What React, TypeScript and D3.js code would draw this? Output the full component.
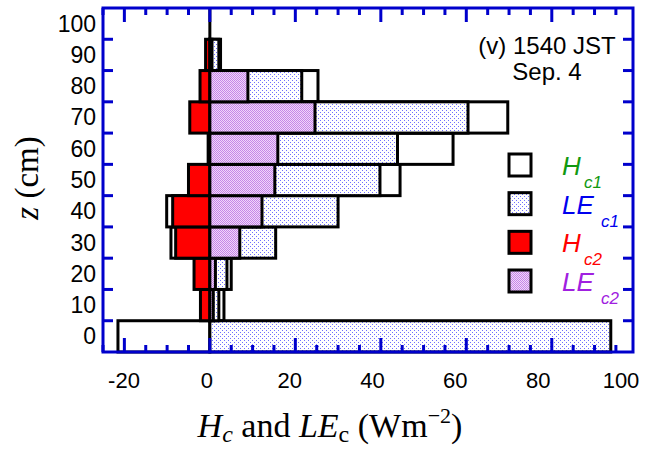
import * as d3 from "d3";

const levels = [0, 10, 20, 30, 40, 50, 60, 70, 80, 90];
const hc1 = [-21.5, 3.3, 5.0, -9.1, -10.1, 44.5, 56.9, 69.7, 25.3, 2.5];
const lec1 = [93.8, 2.1, 4.0, 15.4, 30.0, 39.8, 43.9, 60.4, 21.5, 2.1];
const hc2 = [0, -2.2, -3.7, -8.0, -8.7, -5.0, -0.4, -4.7, -2.3, -1.0];
const lec2 = [0, 0.8, 1.3, 7.0, 12.2, 15.2, 15.9, 24.6, 8.9, 0.5];

const xTickLabels = [-20, 0, 20, 40, 60, 80, 100];
const yTickLabels = [0, 10, 20, 30, 40, 50, 60, 70, 80, 90, 100];
const yTicks = [5, 15, 25, 35, 45, 55, 65, 75, 85, 95];

const W = 661;
const H = 450;
const margin = { left: 103, right: 28, top: 8, bottom: 98 };

const x = d3.scaleLinear().domain([-25, 99]).range([margin.left, W - margin.right]);
const y = d3.scaleLinear().domain([-5, 105]).range([H - margin.bottom, margin.top]);
// tick labels in the original sit on a slightly narrower spacing than the ticks
const xLabel = d3.scaleLinear().domain([-20, 100]).range([124, 621]);

const blue = "#0000cc";
const sans = "'Liberation Sans', Arial, sans-serif";
const serif = "'Liberation Serif', 'Times New Roman', serif";

const series = [
  { key: "hc1", values: hc1, fill: "#ffffff" },
  { key: "lec1", values: lec1, fill: "url(#dots)" },
  { key: "hc2", values: hc2, fill: "#ff0000" },
  { key: "lec2", values: lec2, fill: "url(#purp)" },
];

const legend = [
  { name: "H", sub: "c1", fill: "#ffffff", color: "#119911" },
  { name: "LE", sub: "c1", fill: "url(#dots)", color: "#0000ee" },
  { name: "H", sub: "c2", fill: "#ff0000", color: "#ff0000" },
  { name: "LE", sub: "c2", fill: "url(#purp)", color: "#a020e0" },
];

export default function App() {
  const minorX = d3.range(-25, 100, 5);
  const legendY = d3.scaleLinear().domain([0, 3]).range([165, 281]);

  return (
    <svg
      width={W}
      height={H}
      style={{ position: "absolute", left: 0, top: 0, background: "#fff" }}
    >
      <defs>
        <pattern id="dots" width="4" height="4" patternUnits="userSpaceOnUse">
          <rect width="4" height="4" fill="#ffffff" />
          <rect x="0" y="0" width="1" height="1" fill="#6f6fff" />
          <rect x="2" y="2" width="1" height="1" fill="#6f6fff" />
        </pattern>
        <pattern id="purp" width="2" height="2" patternUnits="userSpaceOnUse">
          <rect width="2" height="2" fill="#f1d6fa" />
          <rect x="0" y="0" width="1" height="1" fill="#c587e8" />
          <rect x="1" y="1" width="1" height="1" fill="#c587e8" />
        </pattern>
      </defs>

      {/* zero line */}
      <line x1={x(0)} x2={x(0)} y1={y(105)} y2={y(-5)} stroke="#000" strokeWidth={3} />

      {/* bars */}
      {series.map((s) => (
        <g key={s.key}>
          {levels.map((lv, i) => {
            const v = s.values[i];
            if (v === 0) return null;
            const x0 = x(Math.min(0, v));
            const x1 = x(Math.max(0, v));
            return (
              <rect
                key={lv}
                x={x0}
                y={y(lv + 5)}
                width={x1 - x0}
                height={y(lv - 5) - y(lv + 5)}
                fill={s.fill}
                stroke="#000"
                strokeWidth={3}
              />
            );
          })}
        </g>
      ))}

      {/* frame */}
      <rect
        x={margin.left}
        y={margin.top}
        width={W - margin.left - margin.right}
        height={H - margin.top - margin.bottom}
        fill="none"
        stroke={blue}
        strokeWidth={3}
      />

      {/* x ticks */}
      {minorX.map((t) => {
        const major = t % 20 === 0;
        const len = major ? 14 : 7;
        return (
          <g key={t}>
            <line x1={x(t)} x2={x(t)} y1={y(-5)} y2={y(-5) - len} stroke={blue} strokeWidth={3} />
            <line x1={x(t)} x2={x(t)} y1={y(105)} y2={y(105) + len} stroke={blue} strokeWidth={3} />
          </g>
        );
      })}

      {/* y ticks */}
      {yTicks.map((t) => (
        <g key={t}>
          <line x1={margin.left} x2={margin.left + 10} y1={y(t)} y2={y(t)} stroke={blue} strokeWidth={3} />
          <line x1={W - margin.right} x2={W - margin.right - 10} y1={y(t)} y2={y(t)} stroke={blue} strokeWidth={3} />
        </g>
      ))}

      {/* tick labels */}
      {xTickLabels.map((t) => (
        <text key={t} x={xLabel(t)} y={388} textAnchor="middle" fontFamily={sans} fontSize={22}>
          {t}
        </text>
      ))}
      {yTickLabels.map((t) => (
        <text key={t} x={96} y={y(t) + 8} textAnchor="end" fontFamily={sans} fontSize={23}>
          {t}
        </text>
      ))}

      {/* annotation */}
      <text x={547} y={54} textAnchor="middle" fontFamily={sans} fontSize={24}>(v) 1540 JST</text>
      <text x={547} y={80} textAnchor="middle" fontFamily={sans} fontSize={24}>Sep. 4</text>

      {/* legend */}
      {legend.map((d, i) => {
        const cy = legendY(i);
        return (
          <g key={i}>
            <rect x={509} y={cy - 11} width={22} height={22} fill={d.fill} stroke="#000" strokeWidth={3} />
            <text x={562} y={cy + 10} fontFamily={sans} fontStyle="italic" fontSize={26} fill={d.color}>
              {d.name}
            </text>
            <text
              x={d.name === "H" ? 584 : 601}
              y={cy + 23}
              fontFamily={sans}
              fontStyle="italic"
              fontSize={17}
              fill={d.color}
            >
              {d.sub}
            </text>
          </g>
        );
      })}

      {/* axis titles */}
      <text
        transform={`translate(38,${178}) rotate(-90)`}
        textAnchor="middle"
        fontFamily={serif}
        fontSize={33}
      >
        <tspan fontStyle="italic">z</tspan> (cm)
      </text>
      <text x={330} y={437} textAnchor="middle" fontFamily={serif} fontSize={34}>
        <tspan fontStyle="italic">H</tspan>
        <tspan fontStyle="italic" fontSize={24} dy={5}>c</tspan>
        <tspan dy={-5}> and </tspan>
        <tspan fontStyle="italic">LE</tspan>
        <tspan fontSize={24} dy={5}>c</tspan>
        <tspan dy={-5}> (Wm</tspan>
        <tspan fontSize={22} dy={-14}>−2</tspan>
        <tspan dy={14}>)</tspan>
      </text>
    </svg>
  );
}
